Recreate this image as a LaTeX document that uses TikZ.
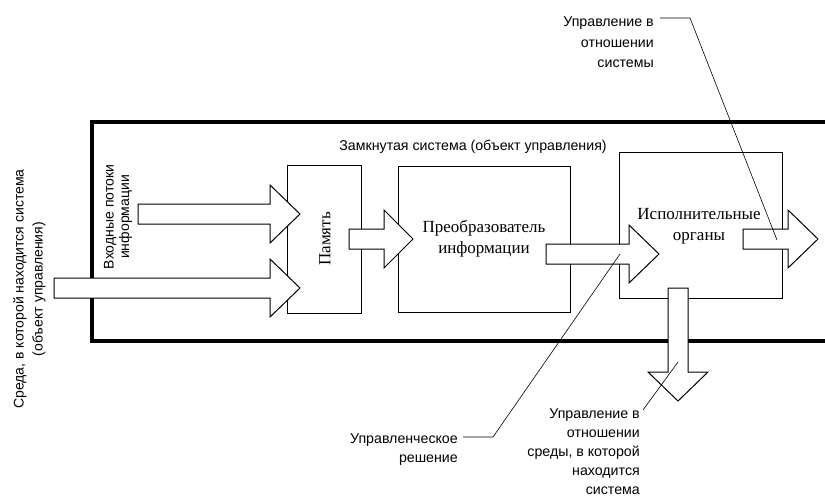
\documentclass[tikz,border=0pt]{standalone}
\usepackage{fontspec}
\setmainfont{Liberation Serif}
\setsansfont{Liberation Sans}
\begin{document}
\begin{tikzpicture}[x=1pt,y=-1pt,
  sanslbl/.style={font=\sffamily\fontsize{14.2}{19.5}\selectfont, inner sep=0pt},
  seriflbl/.style={font=\rmfamily\fontsize{17}{21}\selectfont, inner sep=0pt, align=center},
  boxline/.style={draw, line width=1.3pt, inner sep=0pt, anchor=north west},
  blockarrow/.style={draw, fill=white, line width=1pt, line join=miter},
  frameline/.style={line width=3.2pt},
  leader/.style={line width=0.6pt}]
\useasboundingbox (0,0) rectangle (825,498);

% blocks
\node[boxline, minimum width=74pt, minimum height=148pt] (mem) at (287,165) {};
\node[boxline, minimum width=172pt, minimum height=146pt] (conv) at (398,166) {};
\node[boxline, minimum width=163pt, minimum height=146pt] (exec) at (619,152) {};

% closed system frame (open to the right)
\draw[frameline] (825,122) -- (92,122) -- (92,341) -- (825,341);

% block arrows
\newcommand\myRArrow[4]{% x0, xbase, xtip, ycenter
  \draw[blockarrow] (#1,#4-10) -- (#2,#4-10) -- (#2,#4-29) -- (#3,#4)
    -- (#2,#4+29) -- (#2,#4+10) -- (#1,#4+10) -- cycle;}
\myRArrow{138}{270}{300}{214}
\myRArrow{54}{270}{300}{288}
\myRArrow{349}{384}{413}{239}
\myRArrow{546}{629}{659}{254}
\myRArrow{743}{788}{818}{239}
\draw[blockarrow] (668,288) -- (688,288) -- (688,372) -- (708,372) -- (678,401)
  -- (648,372) -- (668,372) -- cycle;

% texts
\node[sanslbl] (closed) at (473,147) {Замкнутая система (объект управления)};
\node[seriflbl, rotate=90] (memt) at (325,239) {Память};
\node[seriflbl] (convt) at (484,239) {Преобразователь\\информации};
\node[seriflbl] (exect) at (699,226) {Исполнительные\\органы};
\node[sanslbl, rotate=90, align=center, font=\sffamily\fontsize{14}{15.5}\selectfont] (inp) at (118,217) {Входные потоки\\информации};
\node[sanslbl, rotate=90, align=center, font=\sffamily\fontsize{14}{19}\selectfont] (env) at (29.5,289) {Среда, в которой находится система\\(объект управления)};
\node[sanslbl, align=right, anchor=east, font=\sffamily\fontsize{14.2}{20.5}\selectfont] (ctrlsys) at (654,42.5) {Управление в\\отношении\\системы};
\node[sanslbl, align=right, anchor=east] (decision) at (458,449.5) {Управленческое\\решение};
\node[sanslbl, align=right, anchor=east, font=\sffamily\fontsize{14.2}{19}\selectfont] (ctrlenv) at (640,451.5) {Управление в\\отношении\\среды, в которой\\находится\\система};

% leader lines
\coordinate (l1a) at (660,18);
\coordinate (l1b) at (690,18);
\coordinate (l1c) at (777,240);
\draw[leader] (l1a) -- (l1b) -- (l1c);
\coordinate (l2a) at (463,437);
\coordinate (l2b) at (493,437);
\coordinate (l2c) at (620,254);
\draw[leader] (l2a) -- (l2b) -- (l2c);
\coordinate (l3a) at (643,410);
\coordinate (l3b) at (678,362);
\draw[leader] (l3a) -- (l3b);
\end{tikzpicture}
\end{document}
